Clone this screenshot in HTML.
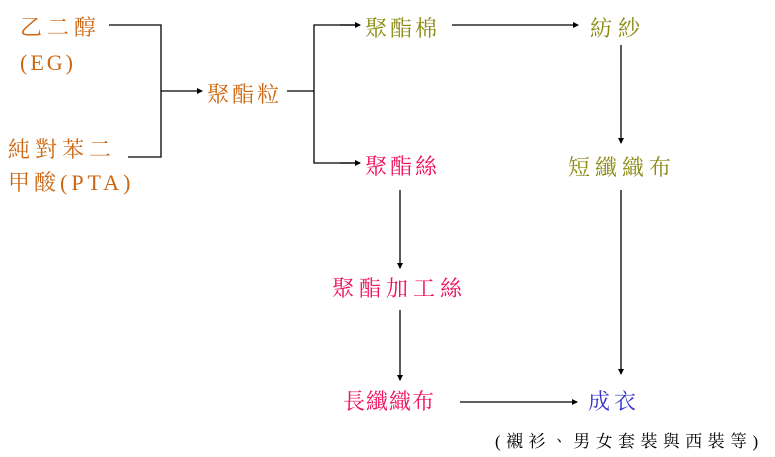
<!DOCTYPE html>
<html><head><meta charset="utf-8"><style>
html,body{margin:0;padding:0;background:#fff;}
svg{display:block}
text{font-family:"Liberation Serif","Noto Serif CJK TC","Noto Serif CJK SC",serif;font-size:22px;}
.o{fill:#cc6610}.g{fill:#8a8a12}.p{fill:#f0105a}.b{fill:#3434d0}
</style></head><body>
<svg width="775" height="457" viewBox="0 0 775 457" xmlns="http://www.w3.org/2000/svg">
<defs><marker id="a" markerWidth="6" markerHeight="6" refX="5" refY="3" orient="auto" markerUnits="userSpaceOnUse"><path d="M0,0 L6,3 L0,6 z" fill="#000"/></marker></defs>
<g stroke="#000" stroke-width="1.3" fill="none">
<polyline points="109,25 161,25 161,157 128,157"/>
<line x1="161" y1="91" x2="202" y2="91" marker-end="url(#a)"/>
<polyline points="287,91 314,91"/>
<polyline points="360,25 314,25 314,163 360,163"/>
<line x1="340" y1="25" x2="360" y2="25" marker-end="url(#a)"/>
<line x1="340" y1="163" x2="360" y2="163" marker-end="url(#a)"/>
<line x1="452" y1="25" x2="578" y2="25" marker-end="url(#a)"/>
<line x1="621" y1="45" x2="621" y2="143" marker-end="url(#a)"/>
<line x1="621" y1="190" x2="621" y2="374" marker-end="url(#a)"/>
<line x1="400" y1="190" x2="400" y2="268" marker-end="url(#a)"/>
<line x1="400" y1="310" x2="400" y2="380" marker-end="url(#a)"/>
<line x1="460" y1="402" x2="577" y2="402" marker-end="url(#a)"/>
</g>
<text class="o" x="20" y="35" letter-spacing="5">乙二醇</text>
<text class="o" x="20" y="70" letter-spacing="3">(EG)</text>
<text class="o" x="8" y="157" letter-spacing="5">純對苯二</text>
<text class="o" x="8" y="190" letter-spacing="4">甲酸(PTA)</text>
<text class="o" x="207" y="102" letter-spacing="3">聚酯粒</text>
<text class="g" x="365" y="36" letter-spacing="3">聚酯棉</text>
<text class="g" x="590" y="36" letter-spacing="6">紡紗</text>
<text class="p" x="365" y="174" letter-spacing="3">聚酯絲</text>
<text class="g" x="568" y="175" letter-spacing="5">短纖織布</text>
<text class="p" x="332" y="296" letter-spacing="5">聚酯加工絲</text>
<text class="p" x="343" y="409" letter-spacing="1">長纖織布</text>
<text class="b" x="588" y="409" letter-spacing="4">成衣</text>
<text x="495" y="447" style="font-size:17px" letter-spacing="5.4">(襯衫、男女套裝與西裝等)</text>
</svg>
</body></html>
